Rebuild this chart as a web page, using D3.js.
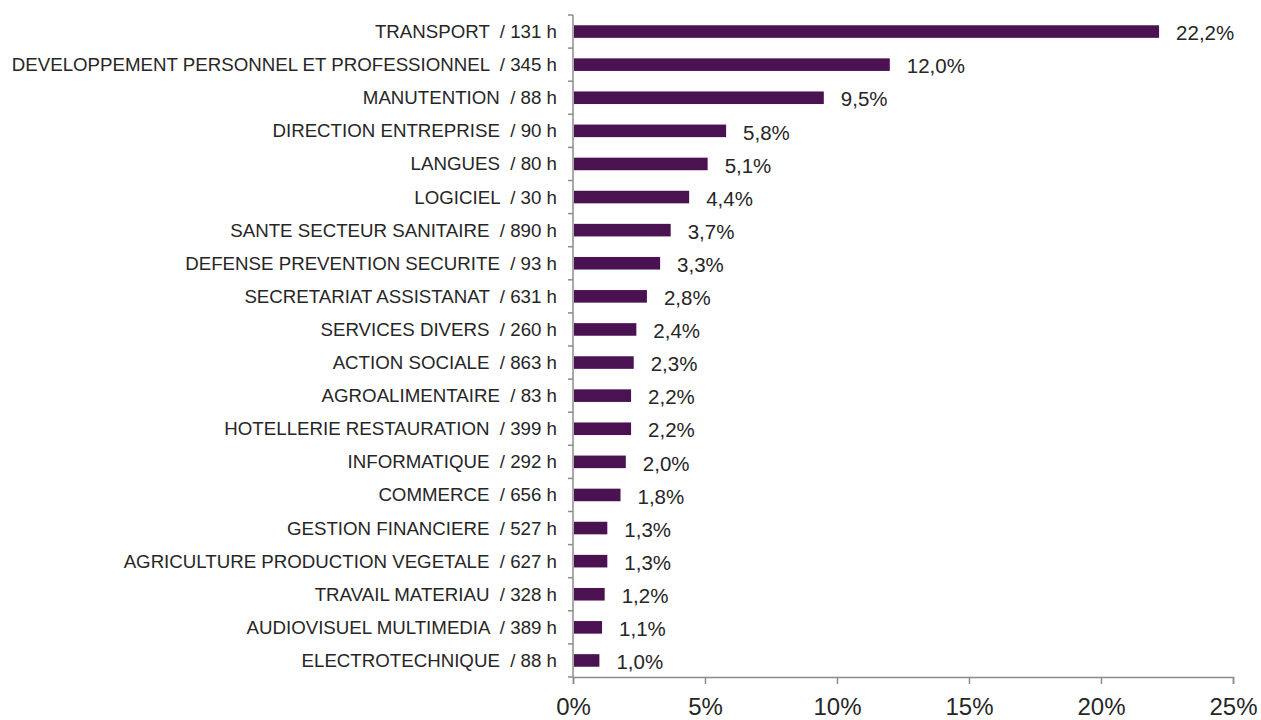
<!DOCTYPE html>
<script src="https://d3js.org/d3.v7.min.js"></script>
<style>
body { margin: 0; background: #fff; }
text { font-family: "Liberation Sans", Arial, sans-serif; fill: #262626; }
</style>
<div id="svg_container"></div>
<script>
var categories = ["TRANSPORT", "DEVELOPPEMENT PERSONNEL ET PROFESSIONNEL", "MANUTENTION", "DIRECTION ENTREPRISE",
  "LANGUES", "LOGICIEL", "SANTE SECTEUR SANITAIRE", "DEFENSE PREVENTION SECURITE", "SECRETARIAT ASSISTANAT",
  "SERVICES DIVERS", "ACTION SOCIALE", "AGROALIMENTAIRE", "HOTELLERIE RESTAURATION", "INFORMATIQUE", "COMMERCE",
  "GESTION FINANCIERE", "AGRICULTURE PRODUCTION VEGETALE", "TRAVAIL MATERIAU", "AUDIOVISUEL MULTIMEDIA", "ELECTROTECHNIQUE"];
var hours = [131, 345, 88, 90, 80, 30, 890, 93, 631, 260, 863, 83, 399, 292, 656, 527, 627, 328, 389, 88];
var shares = [22.2, 12.0, 9.5, 5.8, 5.1, 4.4, 3.7, 3.3, 2.8, 2.4, 2.3, 2.2, 2.2, 2.0, 1.8, 1.3, 1.3, 1.2, 1.1, 1.0];
var xTicks = [0, 5, 10, 15, 20, 25];

var margin = {top: 15, right: 28, bottom: 43, left: 573},
    width = 1261 - margin.left - margin.right,
    height = 720 - margin.top - margin.bottom;

var svg = d3.select("#svg_container").append("svg").attr("width", 1261).attr("height", 720)
  .append("g").attr("transform", "translate(" + margin.left + "," + margin.top + ")");

var x = d3.scaleLinear().domain([0, 25]).range([0, width]);
var y = d3.scaleBand().domain(categories).range([0, height]).paddingInner(0.62).paddingOuter(0.31);

// y axis line + ticks between categories
var band = height / categories.length;
svg.append("line").attr("x1", 0).attr("x2", 0).attr("y1", 0).attr("y2", height).attr("stroke", "#8c8c8c").attr("stroke-width", 1.5);
svg.append("g").selectAll("line").data(d3.range(categories.length + 1)).enter().append("line")
  .attr("x1", -5).attr("x2", 0)
  .attr("y1", function(i) { return i * band; }).attr("y2", function(i) { return i * band; })
  .attr("stroke", "#8c8c8c").attr("stroke-width", 1.5);

// x axis
var xAxis = svg.append("g").attr("transform", "translate(0," + height + ")")
  .call(d3.axisBottom(x).tickValues(xTicks).tickSize(7).tickPadding(14).tickFormat(function(d) { return d + "%"; }));
xAxis.select(".domain").attr("stroke", "#8c8c8c").attr("stroke-width", 1.5);
xAxis.selectAll(".tick line").attr("stroke", "#8c8c8c").attr("stroke-width", 1.5);
xAxis.selectAll(".tick text").style("font-size", "24px").style("font-family", "Liberation Sans, Arial, sans-serif").attr("fill", "#262626");

// bars
svg.append("g").selectAll("rect").data(categories).enter().append("rect")
  .attr("x", 1)
  .attr("y", function(d) { return y(d); })
  .attr("width", function(d, i) { return x(shares[i]) - 1; })
  .attr("height", y.bandwidth())
  .attr("fill", "#4a1251");

// category labels
svg.append("g").selectAll("text").data(categories).enter().append("text")
  .attr("x", -16)
  .attr("y", function(d) { return y(d) + y.bandwidth() / 2; })
  .attr("dy", "0.35em")
  .attr("xml:space", "preserve")
  .style("text-anchor", "end")
  .style("font-size", "18.7px")
  .text(function(d, i) { return d + "  / " + hours[i] + " h"; });

// value labels
svg.append("g").selectAll("text").data(categories).enter().append("text")
  .attr("x", function(d, i) { return x(shares[i]) + 17; })
  .attr("y", function(d) { return y(d) + y.bandwidth() / 2 + 1.5; })
  .attr("dy", "0.35em")
  .style("font-size", "20.5px")
  .text(function(d, i) { return shares[i].toFixed(1).replace(".", ",") + "%"; });
</script>
